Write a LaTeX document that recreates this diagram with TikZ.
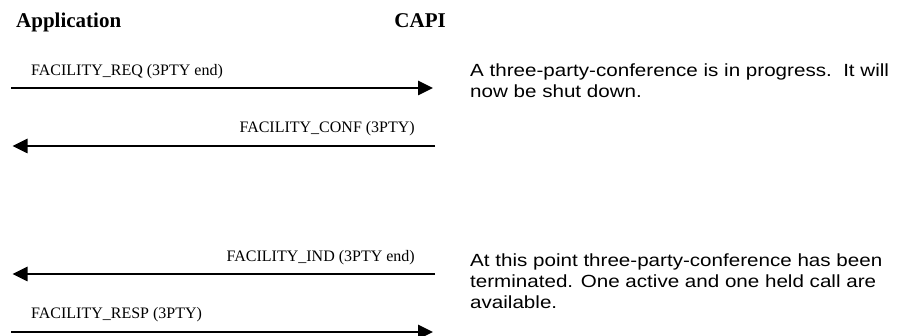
\documentclass[tikz,border=0pt]{standalone}
\usepackage{fontspec}
\setmainfont{Liberation Serif}
\newfontfamily\notefont[FakeStretch=1.17]{Liberation Sans}
\usetikzlibrary{arrows.meta}

\begin{document}
\begin{tikzpicture}[x=1pt,y=-1pt,
  msg/.style={line width=2.6pt,-{Triangle[length=15pt,width=14pt]}},
  lbl/.style={inner sep=0pt,font=\fontsize{16}{19}\selectfont},
  head/.style={inner sep=0pt,font=\fontsize{21}{24}\selectfont\bfseries},
  note/.style={inner sep=0pt,align=left,anchor=base west,font=\notefont\fontsize{17.6}{21}\selectfont}]
\useasboundingbox (0,0) rectangle (906,336);

% headings
\node[head,anchor=base west] (app) at (16,27.5) {Application};
\node[head,anchor=base east] (capi) at (446,27.5) {CAPI};

% message end points, application side and CAPI side
\coordinate (a1) at (11,88);    \coordinate (c1) at (433,88);
\coordinate (a2) at (12.5,146); \coordinate (c2) at (435,146);
\coordinate (a3) at (12.5,274); \coordinate (c3) at (435,274);
\coordinate (a4) at (11,332);   \coordinate (c4) at (433,332);

% messages
\draw[msg] (a1) -- (c1);
\node[lbl,anchor=base west] (lreq) at (31,76) {FACILITY\_REQ (3PTY end)};
\draw[msg] (c2) -- (a2);
\node[lbl,anchor=base east] (lconf) at (415,133) {FACILITY\_CONF (3PTY)};
\draw[msg] (c3) -- (a3);
\node[lbl,anchor=base east] (lind) at (415,261.5) {FACILITY\_IND (3PTY end)};
\draw[msg] (a4) -- (c4);
\node[lbl,anchor=base west] (lresp) at (31,318.5) {FACILITY\_RESP (3PTY)};

% comments on the right (base = last line)
\node[note] (nshut) at (470,97.5) {A three-party-conference is in progress.\ \ It will\\now be shut down.};
\node[note] (nend) at (470,308.5) {At this point three-party-conference has been\\terminated. One active and one held call are\\available.};

\end{tikzpicture}
\end{document}
